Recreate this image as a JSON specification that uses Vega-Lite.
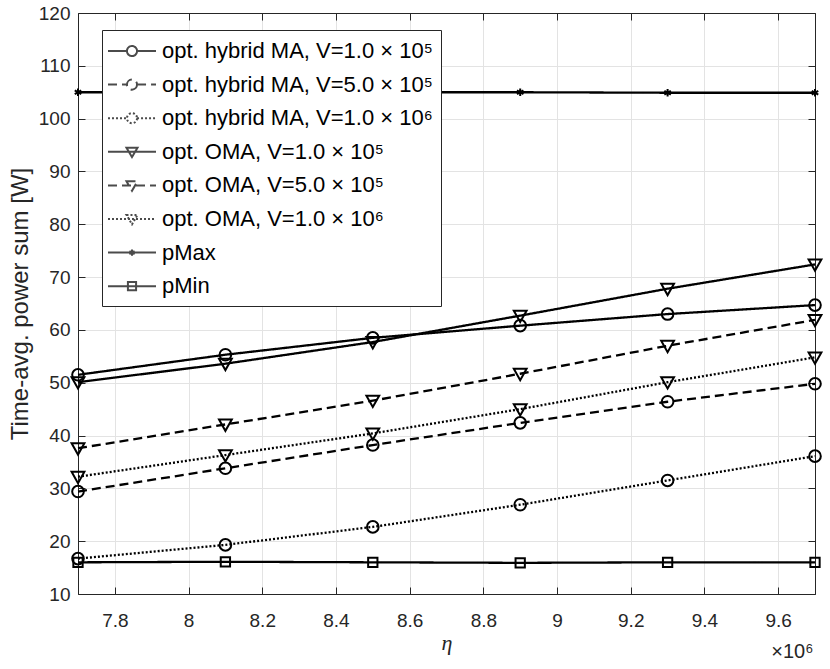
{
  "$schema": "https://vega.github.io/schema/vega-lite/v6.json",
  "width": 737,
  "height": 581,
  "autosize": "none",
  "padding": {"left": 78, "top": 13, "right": 15, "bottom": 75},
  "background": "white",
  "title": {
    "text": "×10⁶",
    "orient": "bottom",
    "anchor": "end",
    "font": "Liberation Sans",
    "fontSize": 20,
    "fontWeight": "normal",
    "color": "#262626",
    "offset": -11,
    "dx": -12
  },
  "data": {
    "values": [
      {"series": "opt. hybrid MA, V=1.0 × 10⁵", "eta": 7.7, "p": 51.5},
      {"series": "opt. hybrid MA, V=1.0 × 10⁵", "eta": 8.1, "p": 55.3},
      {"series": "opt. hybrid MA, V=1.0 × 10⁵", "eta": 8.5, "p": 58.5},
      {"series": "opt. hybrid MA, V=1.0 × 10⁵", "eta": 8.9, "p": 60.8},
      {"series": "opt. hybrid MA, V=1.0 × 10⁵", "eta": 9.3, "p": 63.0},
      {"series": "opt. hybrid MA, V=1.0 × 10⁵", "eta": 9.7, "p": 64.7},
      {"series": "opt. hybrid MA, V=5.0 × 10⁵", "eta": 7.7, "p": 29.4},
      {"series": "opt. hybrid MA, V=5.0 × 10⁵", "eta": 8.1, "p": 33.8},
      {"series": "opt. hybrid MA, V=5.0 × 10⁵", "eta": 8.5, "p": 38.2},
      {"series": "opt. hybrid MA, V=5.0 × 10⁵", "eta": 8.9, "p": 42.4},
      {"series": "opt. hybrid MA, V=5.0 × 10⁵", "eta": 9.3, "p": 46.4},
      {"series": "opt. hybrid MA, V=5.0 × 10⁵", "eta": 9.7, "p": 49.8},
      {"series": "opt. hybrid MA, V=1.0 × 10⁶", "eta": 7.7, "p": 16.7},
      {"series": "opt. hybrid MA, V=1.0 × 10⁶", "eta": 8.1, "p": 19.3},
      {"series": "opt. hybrid MA, V=1.0 × 10⁶", "eta": 8.5, "p": 22.7},
      {"series": "opt. hybrid MA, V=1.0 × 10⁶", "eta": 8.9, "p": 26.9},
      {"series": "opt. hybrid MA, V=1.0 × 10⁶", "eta": 9.3, "p": 31.5},
      {"series": "opt. hybrid MA, V=1.0 × 10⁶", "eta": 9.7, "p": 36.1},
      {"series": "opt. OMA, V=1.0 × 10⁵", "eta": 7.7, "p": 50.1},
      {"series": "opt. OMA, V=1.0 × 10⁵", "eta": 8.1, "p": 53.6},
      {"series": "opt. OMA, V=1.0 × 10⁵", "eta": 8.5, "p": 57.7},
      {"series": "opt. OMA, V=1.0 × 10⁵", "eta": 8.9, "p": 62.7},
      {"series": "opt. OMA, V=1.0 × 10⁵", "eta": 9.3, "p": 67.8},
      {"series": "opt. OMA, V=1.0 × 10⁵", "eta": 9.7, "p": 72.4},
      {"series": "opt. OMA, V=5.0 × 10⁵", "eta": 7.7, "p": 37.6},
      {"series": "opt. OMA, V=5.0 × 10⁵", "eta": 8.1, "p": 42.1},
      {"series": "opt. OMA, V=5.0 × 10⁵", "eta": 8.5, "p": 46.6},
      {"series": "opt. OMA, V=5.0 × 10⁵", "eta": 8.9, "p": 51.7},
      {"series": "opt. OMA, V=5.0 × 10⁵", "eta": 9.3, "p": 57.0},
      {"series": "opt. OMA, V=5.0 × 10⁵", "eta": 9.7, "p": 61.9},
      {"series": "opt. OMA, V=1.0 × 10⁶", "eta": 7.7, "p": 32.2},
      {"series": "opt. OMA, V=1.0 × 10⁶", "eta": 8.1, "p": 36.3},
      {"series": "opt. OMA, V=1.0 × 10⁶", "eta": 8.5, "p": 40.4},
      {"series": "opt. OMA, V=1.0 × 10⁶", "eta": 8.9, "p": 45.0},
      {"series": "opt. OMA, V=1.0 × 10⁶", "eta": 9.3, "p": 50.1},
      {"series": "opt. OMA, V=1.0 × 10⁶", "eta": 9.7, "p": 54.8},
      {"series": "pMax", "eta": 7.7, "p": 105.0},
      {"series": "pMax", "eta": 8.1, "p": 105.0},
      {"series": "pMax", "eta": 8.5, "p": 105.0},
      {"series": "pMax", "eta": 8.9, "p": 105.0},
      {"series": "pMax", "eta": 9.3, "p": 104.9},
      {"series": "pMax", "eta": 9.7, "p": 104.9},
      {"series": "pMin", "eta": 7.7, "p": 16.0},
      {"series": "pMin", "eta": 8.1, "p": 16.1},
      {"series": "pMin", "eta": 8.5, "p": 16.0},
      {"series": "pMin", "eta": 8.9, "p": 15.9},
      {"series": "pMin", "eta": 9.3, "p": 16.0},
      {"series": "pMin", "eta": 9.7, "p": 16.0}
    ]
  },
  "layer": [
    {
      "mark": {"type": "line", "color": "black", "strokeWidth": 2.3},
      "encoding": {
        "x": {
          "field": "eta", "type": "quantitative",
          "scale": {"domain": [7.7, 9.7], "nice": false, "zero": false},
          "axis": {
            "values": [7.8, 8, 8.2, 8.4, 8.6, 8.8, 9, 9.2, 9.4, 9.6],
            "format": "~g",
            "grid": true,
            "tickSize": -7,
            "labelPadding": 24,
            "title": "η",
            "titleFont": "Liberation Serif",
            "titleFontStyle": "italic",
            "titleFontSize": 22,
            "titlePadding": 2
          }
        },
        "y": {
          "field": "p", "type": "quantitative",
          "scale": {"domain": [10, 120], "nice": false, "zero": false},
          "axis": {
            "values": [10, 20, 30, 40, 50, 60, 70, 80, 90, 100, 110, 120],
            "grid": true,
            "tickSize": -7,
            "labelPadding": 15,
            "title": "Time-avg. power sum [W]",
            "titleFontSize": 24,
            "titlePadding": 6
          }
        },
        "strokeDash": {
          "field": "series", "type": "nominal",
          "scale": {
            "domain": ["opt. hybrid MA, V=1.0 × 10⁵", "opt. hybrid MA, V=5.0 × 10⁵", "opt. hybrid MA, V=1.0 × 10⁶", "opt. OMA, V=1.0 × 10⁵", "opt. OMA, V=5.0 × 10⁵", "opt. OMA, V=1.0 × 10⁶", "pMax", "pMin"],
            "range": [[1, 0], [9, 5], [2, 2], [1, 0], [9, 5], [2, 2], [1, 0], [1, 0]]
          },
          "legend": null
        }
      }
    },
    {
      "mark": {"type": "point", "filled": false, "color": "black", "strokeWidth": 2, "opacity": 1},
      "encoding": {
        "x": {
          "field": "eta", "type": "quantitative",
          "axis": {
            "orient": "top",
            "values": [7.8, 8, 8.2, 8.4, 8.6, 8.8, 9, 9.2, 9.4, 9.6],
            "labels": false, "grid": false, "tickSize": -7, "title": null
          }
        },
        "y": {
          "field": "p", "type": "quantitative",
          "axis": {
            "orient": "right",
            "values": [10, 20, 30, 40, 50, 60, 70, 80, 90, 100, 110, 120],
            "labels": false, "grid": false, "tickSize": -7, "title": null
          }
        },
        "shape": {
          "field": "series", "type": "nominal",
          "scale": {
            "domain": ["opt. hybrid MA, V=1.0 × 10⁵", "opt. hybrid MA, V=5.0 × 10⁵", "opt. hybrid MA, V=1.0 × 10⁶", "opt. OMA, V=1.0 × 10⁵", "opt. OMA, V=5.0 × 10⁵", "opt. OMA, V=1.0 × 10⁶", "pMax", "pMin"],
            "range": ["circle", "circle", "circle", "M-1.1,-0.85L1.1,-0.85L0,1.1Z", "M-1.1,-0.85L1.1,-0.85L0,1.1Z", "M-1.1,-0.85L1.1,-0.85L0,1.1Z", "M0,-0.65L0,0.65M-0.56,-0.32L0.56,0.32M-0.56,0.32L0.56,-0.32", "M-0.8,-0.8L0.8,-0.8L0.8,0.8L-0.8,0.8Z"]
          },
          "legend": null
        },
        "size": {"value": 135}
      }
    },
    {
      "transform": [{"filter": "datum.p < 0"}],
      "mark": {"type": "point", "filled": false, "color": "black", "strokeWidth": 2},
      "encoding": {
        "x": {"field": "eta", "type": "quantitative", "axis": null},
        "y": {"field": "p", "type": "quantitative", "axis": null},
        "shape": {
          "field": "series", "type": "nominal",
          "scale": {
            "domain": ["opt. hybrid MA, V=1.0 × 10⁵", "opt. hybrid MA, V=5.0 × 10⁵", "opt. hybrid MA, V=1.0 × 10⁶", "opt. OMA, V=1.0 × 10⁵", "opt. OMA, V=5.0 × 10⁵", "opt. OMA, V=1.0 × 10⁶", "pMax", "pMin"],
            "range": [
              "M-2,0L-0.42,0M0.42,0L2,0M0.42,0A0.42,0.42,0,1,1,-0.42,0A0.42,0.42,0,1,1,0.42,0",
              "M-2,0L-0.42,0M0.42,0L2,0M0.42,0A0.42,0.42,0,1,1,-0.42,0A0.42,0.42,0,1,1,0.42,0",
              "M-2,0L-0.42,0M0.42,0L2,0M0.42,0A0.42,0.42,0,1,1,-0.42,0A0.42,0.42,0,1,1,0.42,0",
              "M-2,0L2,0M-0.46,-0.34L0.46,-0.34L0,0.44Z",
              "M-2,0L2,0M-0.46,-0.34L0.46,-0.34L0,0.44Z",
              "M-2,0L2,0M-0.46,-0.34L0.46,-0.34L0,0.44Z",
              "M-2,0L2,0M0,-0.26L0,0.26M-0.22,-0.13L0.22,0.13M-0.22,0.13L0.22,-0.13",
              "M-2,0L2,0M-0.34,-0.34L0.34,-0.34L0.34,0.34L-0.34,0.34Z"
            ]
          },
          "legend": {
            "title": null,
            "orient": "none",
            "legendX": 24,
            "legendY": 17,
            "symbolSize": 576,
            "symbolOffset": 9,
            "symbolStrokeWidth": 2,
            "symbolStrokeColor": "black",
            "labelFont": "Liberation Sans",
            "labelFontSize": 22,
            "labelColor": "black",
            "labelLimit": 0,
            "labelOffset": 17,
            "rowPadding": 9.6,
            "padding": 8,
            "strokeColor": "#262626",
            "fillColor": "white"
          }
        },
        "strokeDash": {
          "field": "series", "type": "nominal",
          "scale": {
            "domain": ["opt. hybrid MA, V=1.0 × 10⁵", "opt. hybrid MA, V=5.0 × 10⁵", "opt. hybrid MA, V=1.0 × 10⁶", "opt. OMA, V=1.0 × 10⁵", "opt. OMA, V=5.0 × 10⁵", "opt. OMA, V=1.0 × 10⁶", "pMax", "pMin"],
            "range": [[1, 0], [9, 5], [2, 2], [1, 0], [9, 5], [2, 2], [1, 0], [1, 0]]
          },
          "legend": {
            "title": null,
            "orient": "none",
            "legendX": 24,
            "legendY": 17,
            "symbolSize": 576,
            "symbolOffset": 9,
            "symbolStrokeWidth": 2,
            "symbolStrokeColor": "black",
            "labelFont": "Liberation Sans",
            "labelFontSize": 22,
            "labelColor": "black",
            "labelLimit": 0,
            "labelOffset": 17,
            "rowPadding": 9.6,
            "padding": 8,
            "strokeColor": "#262626",
            "fillColor": "white"
          }
        }
      }
    }
  ],
  "resolve": {
    "scale": {"shape": "independent", "strokeDash": "independent"},
    "axis": {"x": "independent", "y": "independent"}
  },
  "config": {
    "view": {"stroke": "#262626", "strokeWidth": 1},
    "axis": {
      "domainColor": "#262626",
      "tickColor": "#262626",
      "labelColor": "#262626",
      "titleColor": "#262626",
      "labelFont": "Liberation Sans",
      "titleFont": "Liberation Sans",
      "labelFontSize": 19,
      "titleFontWeight": "normal",
      "gridColor": "#e3e3e3",
      "gridWidth": 1
    }
  }
}
